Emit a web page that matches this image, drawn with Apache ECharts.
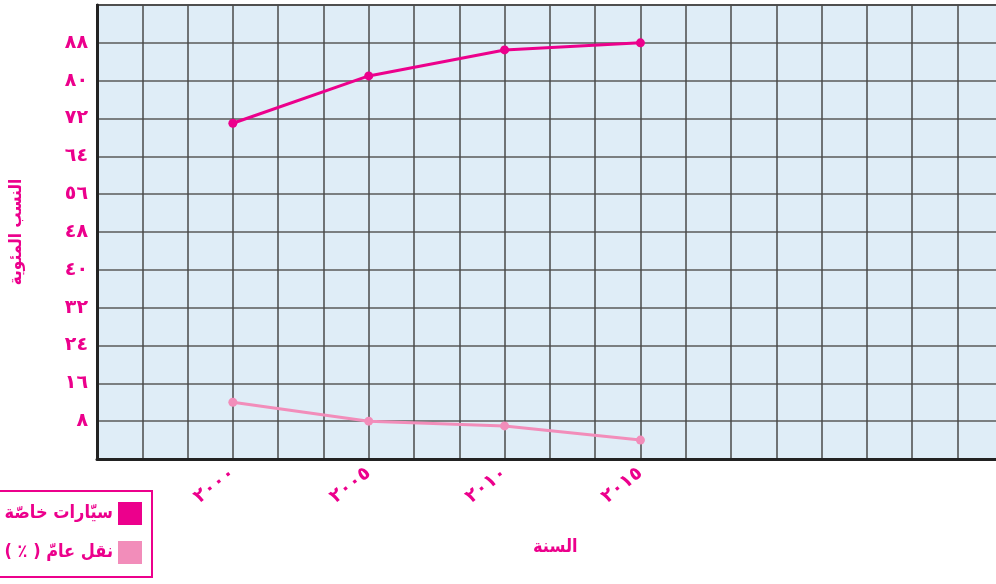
<!DOCTYPE html>
<html dir="rtl">
<head>
<meta charset="utf-8">
<script src="https://cdn.jsdelivr.net/npm/echarts@6/dist/echarts.min.js"></script>
<style>
  html, body { margin: 0; padding: 0; background: #fff; }
  #chart { width: 996px; height: 584px; }
</style>
</head>
<body>
<div id="chart"></div>
<script>
// data
var years = [2000, 2005, 2010, 2015];
var privateCars = [71, 81, 86.5, 88];
var publicTransport = [12, 8, 7, 4];
var seriesNames = ['سيّارات خاصّة', 'نقل عامّ ( ٪ )'];
var yTicks = [8, 16, 24, 32, 40, 48, 56, 64, 72, 80, 88];

var PINK = '#EC008C';
var LIGHT_PINK = '#F28DBA';
var FONT = 'DejaVu Sans';
var FONT_NARROW = 'DejaVu Sans Condensed';

function arabicDigits(v) {
    return String(v).replace(/\d/g, function (d) { return '٠١٢٣٤٥٦٧٨٩'[d]; });
}

var chart = echarts.init(document.getElementById('chart'));

var pairs = function (vals) {
    return years.map(function (y, i) { return [y, vals[i]]; });
};

chart.setOption({
    animation: false,
    title: {
        text: 'السنة',
        left: 528,
        top: 533,
        textStyle: { color: PINK, fontFamily: FONT_NARROW, fontWeight: 'bold', fontSize: 18 }
    },
    legend: {
        orient: 'vertical',
        right: 844,
        top: 491,
        align: 'right',
        itemWidth: 24,
        itemHeight: 23,
        itemGap: 16,
        itemStyle: { borderWidth: 0 },
        padding: [11, 10, 13, 12],
        borderColor: PINK,
        borderWidth: 2,
        icon: 'rect',
        data: seriesNames,
        textStyle: { color: PINK, fontFamily: FONT_NARROW, fontWeight: 'bold', fontSize: 18 }
    },
    grid: {
        left: 97,
        top: 5,
        width: 951,
        height: 454,
        outerBoundsMode: 'none',
        containLabel: false,
        show: true,
        backgroundColor: '#DFEDF7',
        borderColor: '#333',
        borderWidth: 2
    },
    xAxis: [
        {
            type: 'value',
            min: 1995,
            max: 2030,
            interval: 5,
            axisLine: { show: true, lineStyle: { color: '#222', width: 3 } },
            axisTick: { show: false },
            splitLine: { show: false },
            axisLabel: {
                rotate: 38,
                margin: 12,
                color: PINK,
                fontFamily: FONT,
                fontWeight: 'bold',
                fontSize: 19,
                formatter: function (v) {
                    return years.indexOf(v) >= 0 ? arabicDigits(v) : '';
                }
            }
        },
        {
            type: 'value',
            min: 0,
            max: 21,
            interval: 1,
            position: 'bottom',
            axisLine: { show: false },
            axisTick: { show: false },
            axisLabel: { show: false },
            splitLine: { show: true, lineStyle: { color: '#4a4a4a', width: 1.5 } }
        }
    ],
    yAxis: {
        type: 'value',
        min: 0,
        max: 96,
        interval: 8,
        name: 'النسب المئوية',
        nameLocation: 'middle',
        nameGap: 72,
        nameTextStyle: { color: PINK, fontFamily: FONT_NARROW, fontWeight: 'bold', fontSize: 17 },
        axisLine: { show: true, lineStyle: { color: '#222', width: 3 } },
        axisTick: { show: false },
        splitLine: { show: true, lineStyle: { color: '#5a5a5a', width: 1.5 } },
        axisLabel: {
            margin: 9,
            color: PINK,
            fontFamily: FONT,
            fontWeight: 'bold',
            fontSize: 19,
            formatter: function (v) {
                return yTicks.indexOf(v) >= 0 ? arabicDigits(v) : '';
            }
        }
    },
    series: [
        {
            name: seriesNames[0],
            type: 'line',
            xAxisIndex: 0,
            data: pairs(privateCars),
            symbol: 'circle',
            symbolSize: 9,
            itemStyle: { color: PINK },
            lineStyle: { color: PINK, width: 3 }
        },
        {
            name: seriesNames[1],
            type: 'line',
            xAxisIndex: 0,
            data: pairs(publicTransport),
            symbol: 'circle',
            symbolSize: 9,
            itemStyle: { color: LIGHT_PINK },
            lineStyle: { color: LIGHT_PINK, width: 3 }
        }
    ]
});
</script>
</body>
</html>
